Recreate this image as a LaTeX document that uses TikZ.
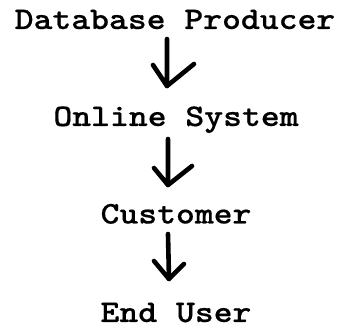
\documentclass[tikz,border=0pt]{standalone}
\usepackage{fontspec}
\newfontfamily\courfont{lmmonolt10-bold.otf}[FakeStretch=1.14,FakeBold=0.4]
\begin{document}
\begin{tikzpicture}[x=1pt,y=1pt,
  label/.style={anchor=base,inner sep=0pt,font=\courfont\fontsize{31.5}{34}\selectfont},
  flow/.style={line width=4.6pt,line cap=round,line join=round}]
\useasboundingbox (0,0) rectangle (341,-328);
% stages of the chain
\node[label] (prod) at (175,-29) {Database Producer};
\node[label] (onl)  at (176,-126) {Online System};
\node[label] (cust) at (176,-223.5) {Customer};
\node[label] (end)  at (176,-322) {End User};
% arrow ends
\coordinate (s1) at (167,-39);  \coordinate (t1) at (167,-86);
\coordinate (s2) at (168,-139); \coordinate (t2) at (168,-185);
\coordinate (s3) at (168,-234); \coordinate (t3) at (169,-279);
% hand-drawn down arrows
\draw[flow] (s1) -- (t1) -- ++(-14,21);
\draw[flow] (t1) -- ++(27,22);
\draw[flow] (s2) -- (t2) -- ++(-14,17);
\draw[flow] (t2) -- ++(24,19);
\draw[flow] (s3) -- (t3) -- ++(-15,18);
\draw[flow] (t3) -- ++(15,15);
\end{tikzpicture}
\end{document}
